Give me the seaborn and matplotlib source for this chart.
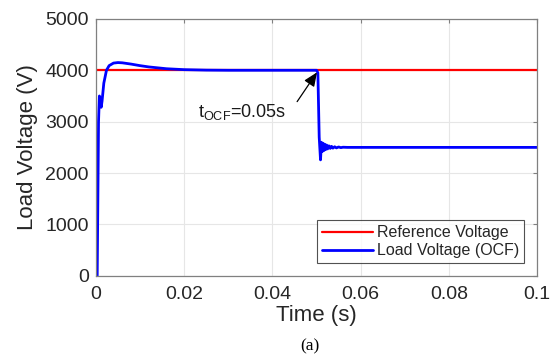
import numpy as np
import pandas as pd
import matplotlib
matplotlib.use('Agg')
import matplotlib.pyplot as plt
import seaborn as sns

# ── data ─────────────────────────────────────────────────────────────────────
ref_time = [0.0, 0.1]
ref_volt = [4000, 4000]

load_time = [0.0, 0.0003, 0.0006, 0.0008, 0.0010, 0.0012, 0.0014, 0.0018,
             0.0024, 0.0030, 0.0040, 0.0050, 0.0060, 0.0080, 0.0100, 0.0120,
             0.0160, 0.0200, 0.0250, 0.0300, 0.0400, 0.0500, 0.0503, 0.0506,
             0.0509, 0.0511, 0.0513, 0.0515, 0.0517, 0.0519, 0.0521, 0.0523,
             0.0525, 0.0528, 0.0531, 0.0534, 0.0537, 0.0541, 0.0545, 0.0550,
             0.0555, 0.0560, 0.0570, 0.1000]
load_volt = [0, 0, 3000, 3500, 3450, 3280, 3400, 3750,
             4000, 4090, 4140, 4150, 4145, 4120, 4090, 4065,
             4030, 4012, 4003, 4000, 4000, 4000, 3950, 2700,
             2257, 2600, 2420, 2580, 2440, 2560, 2460, 2545,
             2470, 2530, 2480, 2520, 2485, 2512, 2490, 2508,
             2495, 2503, 2500, 2500]

x_ticks = [0, 0.02, 0.04, 0.06, 0.08, 0.1]
x_ticklabels = ['0', '0.02', '0.04', '0.06', '0.08', '0.1']
y_ticks = [0, 1000, 2000, 3000, 4000, 5000]

# ── style ────────────────────────────────────────────────────────────────────
sns.set_theme(style='whitegrid')
plt.rcParams.update({
    'font.family': ['Liberation Sans', 'DejaVu Sans'],
    'mathtext.fontset': 'custom',
    'mathtext.rm': 'Liberation Sans',
    'mathtext.it': 'Liberation Sans',
    'axes.edgecolor': '#808080',
    'axes.linewidth': 0.9,
    'grid.color': '#e6e6e6',
    'grid.linewidth': 0.8,
    'xtick.direction': 'in',
    'ytick.direction': 'in',
    'xtick.color': '#808080',
    'ytick.color': '#808080',
    'xtick.labelcolor': '#262626',
    'ytick.labelcolor': '#262626',
})

fig = plt.figure(figsize=(5.51, 3.56), dpi=100, facecolor='white')
ax = fig.add_axes([0.174, 0.225, 0.801, 0.722])
ax.set_facecolor('white')

sns.lineplot(x=ref_time, y=ref_volt, ax=ax, color='#ff0000', linewidth=1.6,
             label='Reference Voltage', estimator=None)
sns.lineplot(x=load_time, y=load_volt, ax=ax, color='#0000ff', linewidth=2.0,
             label='Load Voltage (OCF)', estimator=None, sort=False)

ax.set_xlim(0, 0.1)
ax.set_ylim(0, 5000)
ax.set_xticks(x_ticks)
ax.set_xticklabels(x_ticklabels)
ax.set_yticks(y_ticks)
ax.tick_params(axis='both', labelsize=14, length=3, width=0.8,
               top=True, right=True)
ax.tick_params(axis='x', pad=7)
ax.tick_params(axis='y', pad=5)
for s in ax.spines.values():
    s.set_visible(True)

ax.set_xlabel('Time (s)', fontsize=16, color='#262626', labelpad=2)
ax.set_ylabel('Load Voltage (V)', fontsize=16, color='#262626', labelpad=5)

# annotation of the open-circuit fault instant
ax.annotate('', xy=(0.0501, 3960), xytext=(0.0456, 3390),
            arrowprops=dict(arrowstyle='-|>,head_length=0.7,head_width=0.3',
                            color='black', lw=0.9, shrinkA=0, shrinkB=0))
ax.text(0.0231, 3090, r'$\mathregular{t_{OCF}}$=0.05s', fontsize=13,
        color='#1a1a1a', va='baseline', ha='left')

leg = ax.legend(loc='lower right', fontsize=11.5, frameon=True, fancybox=False,
                handlelength=3.2, borderaxespad=0.8, borderpad=0.3,
                labelspacing=0.2, handletextpad=0.3)
leg.get_frame().set_edgecolor('#262626')
leg.get_frame().set_linewidth(0.8)

fig.text(0.563, 0.005, '(a)', fontsize=12.5, family='Liberation Serif',
         ha='center', va='bottom', color='black')

plt.savefig('out.png', dpi=100, facecolor='white')
